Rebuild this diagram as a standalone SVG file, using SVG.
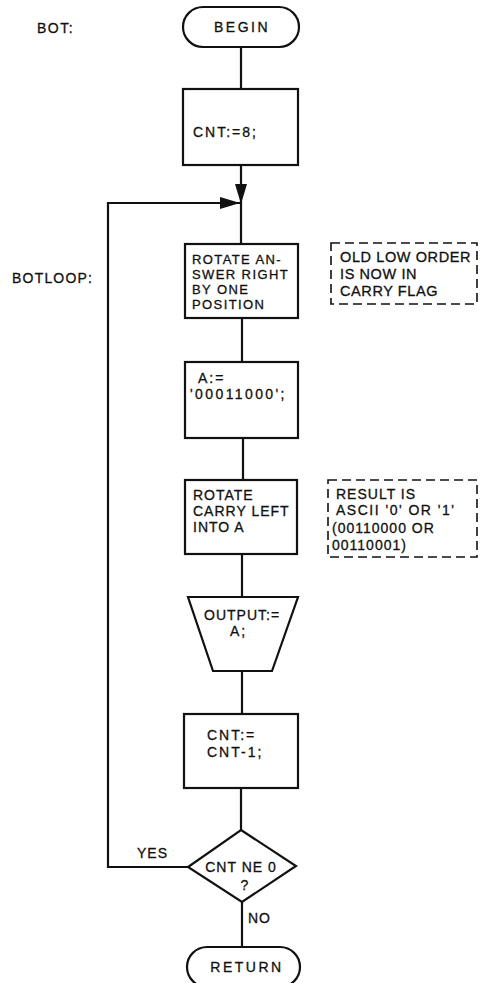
<svg xmlns="http://www.w3.org/2000/svg" width="480" height="983" viewBox="0 0 480 983">
<defs>
<marker id="arr" viewBox="0 0 20 12" refX="20" refY="6" markerWidth="20" markerHeight="12" markerUnits="userSpaceOnUse" orient="auto">
<path d="M0,0 L20,6 L0,12 Z" fill="#111"/>
</marker>
</defs>
<style>
.s{fill:#fff;stroke:#111;stroke-width:2.2}
.d{fill:none;stroke:#111;stroke-width:1.6;stroke-dasharray:9,5}
.c{fill:none;stroke:#111;stroke-width:2.2}
text{font-family:"Liberation Sans",Arial,sans-serif;font-size:14px;fill:#111;stroke:#111;stroke-width:0.3;letter-spacing:1px}
.m{text-anchor:middle}
.w{letter-spacing:2.5px}
.r{font-size:13px;letter-spacing:1.4px}
.n{font-size:14.5px;letter-spacing:0.6px}
</style>
<rect width="480" height="983" fill="#fff"/>
<g id="labels">
<text x="37" y="33" style="letter-spacing:1.5px">BOT:</text>
<text x="12" y="283" style="letter-spacing:1.2px">BOTLOOP:</text>
</g>
<g id="connectors">
<line class="c" x1="241" y1="47" x2="241" y2="89"/>
<line class="c" x1="241" y1="165" x2="241" y2="204" marker-end="url(#arr)"/>
<polyline class="c" points="188,867 108,867 108,203 240,203" marker-end="url(#arr)"/>
<line class="c" x1="241" y1="203" x2="241" y2="244"/>
<line class="c" x1="242" y1="318" x2="242" y2="362"/>
<line class="c" x1="243" y1="438" x2="243" y2="480"/>
<line class="c" x1="242" y1="554" x2="242" y2="597"/>
<line class="c" x1="242" y1="671" x2="242" y2="714"/>
<line class="c" x1="241" y1="788" x2="241" y2="830"/>
<line class="c" x1="242" y1="902" x2="242" y2="947"/>
<text x="137" y="858">YES</text>
<text x="248" y="923">NO</text>
</g>
<g id="begin">
<rect class="s" x="183" y="7" width="116" height="40" rx="20"/>
<text class="m w" x="242" y="32">BEGIN</text>
</g>
<g id="init">
<rect class="s" x="183" y="89" width="115" height="76"/>
<text x="193" y="137" style="letter-spacing:2px">CNT:=8;</text>
</g>
<g id="rotate-answer">
<rect class="s" x="185" y="244" width="113" height="74"/>
<text class="r" x="192" y="264">ROTATE AN-</text>
<text class="r" x="192" y="279">SWER RIGHT</text>
<text class="r" x="192" y="294">BY ONE</text>
<text class="r" x="192" y="309">POSITION</text>
</g>
<g id="note1">
<rect class="d" x="331" y="243" width="146" height="61"/>
<text class="n" x="340" y="262">OLD LOW ORDER</text>
<text class="n" x="340" y="279">IS NOW IN</text>
<text class="n" x="340" y="296">CARRY FLAG</text>
</g>
<g id="set-a">
<rect class="s" x="185" y="362" width="113" height="76"/>
<text x="198" y="383" style="letter-spacing:2px">A:=</text>
<text x="190" y="399" style="letter-spacing:2.4px">'00011000';</text>
</g>
<g id="rotate-carry">
<rect class="s" x="185" y="480" width="112" height="74"/>
<text x="193" y="500">ROTATE</text>
<text x="193" y="516">CARRY LEFT</text>
<text x="193" y="532">INTO A</text>
</g>
<g id="note2">
<rect class="d" x="328" y="480" width="149" height="77"/>
<text x="336" y="499">RESULT IS</text>
<text x="336" y="515" style="letter-spacing:1.5px">ASCII '0' OR '1'</text>
<text x="332" y="533">(00110000 OR</text>
<text x="332" y="550">00110001)</text>
</g>
<g id="output">
<polygon class="s" points="188,597 298,597 272,671 213,671"/>
<text x="204" y="620">OUTPUT:=</text>
<text x="230" y="636" style="letter-spacing:2px">A;</text>
</g>
<g id="decrement">
<rect class="s" x="184" y="714" width="114" height="74"/>
<text x="207" y="740" style="letter-spacing:2px">CNT:=</text>
<text x="207" y="757" style="letter-spacing:2px">CNT-1;</text>
</g>
<g id="test">
<polygon class="s" points="241,830 296,866 242,902 188,867"/>
<text class="m" x="241" y="872">CNT NE 0</text>
<text class="m" x="245" y="890">?</text>
</g>
<g id="return">
<rect class="s" x="187" y="947" width="113" height="40" rx="20"/>
<text class="m w" x="247" y="972">RETURN</text>
</g>
</svg>
